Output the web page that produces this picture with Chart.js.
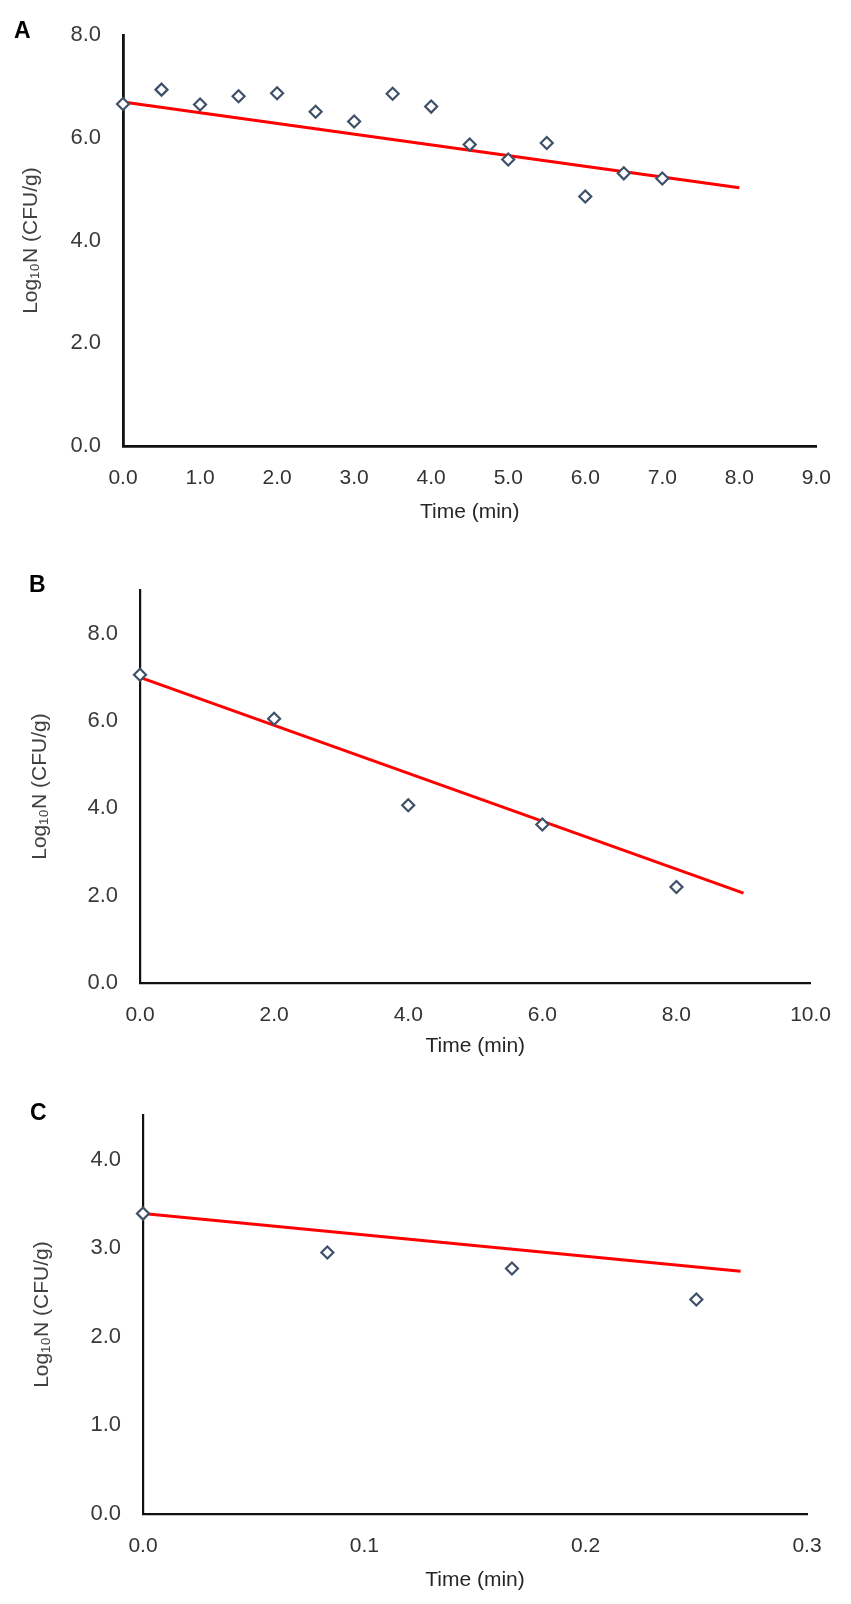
<!DOCTYPE html>
<html>
<head>
<meta charset="utf-8">
<script src="https://cdn.jsdelivr.net/npm/chart.js@4.4.1/dist/chart.umd.min.js"></script>
<style>
body{margin:0;background:#fff;}
#page{position:relative;width:851px;height:1604px;overflow:hidden;background:#fff;}
.panel{position:absolute;left:0;width:851px;}
.letter{position:absolute;font-family:"Liberation Sans",Arial,sans-serif;font-weight:bold;font-size:23px;line-height:1;color:#000;}
</style>
</head>
<body>
<div id="page">
	<div class="panel" style="top:0;height:540px"><canvas id="chartA" width="851" height="540"></canvas></div>
	<div class="panel" style="top:540px;height:540px"><canvas id="chartB" width="851" height="540"></canvas></div>
	<div class="panel" style="top:1080px;height:524px"><canvas id="chartC" width="851" height="524"></canvas></div>
	<div class="letter" style="left:14px;top:19px">A</div>
	<div class="letter" style="left:29px;top:573px">B</div>
	<div class="letter" style="left:30px;top:1101px">C</div>
</div>
<script>
// panel A
var timeA = [0, 0.5, 1.0, 1.5, 2.0, 2.5, 3.0, 3.5, 4.0, 4.5, 5.0, 5.5, 6.0, 6.5, 7.0];
var logA  = [6.66, 6.94, 6.65, 6.81, 6.87, 6.51, 6.32, 6.86, 6.61, 5.87, 5.58, 5.90, 4.86, 5.31, 5.21];
var fitTimeA = [0, 8.0];
var fitLogA  = [6.70, 5.03];

// panel B
var timeB = [0, 2, 4, 6, 8];
var logB  = [7.06, 6.05, 4.07, 3.63, 2.20];
var fitTimeB = [0, 9.0];
var fitLogB  = [7.00, 2.06];

// panel C
var timeC = [0, 0.0833, 0.1667, 0.25];
var logC  = [3.39, 2.95, 2.77, 2.42];
var fitTimeC = [0, 0.27];
var fitLogC  = [3.39, 2.74];

var xTitle = 'Time (min)';
var yTitle = 'Log\u2081\u2080N (CFU/g)';

var sans = "'Liberation Sans', Arial, sans-serif";

function toXY(xs, ys) {
	var out = [];
	for (var i = 0; i < xs.length; i++) out.push({x: xs[i], y: ys[i]});
	return out;
}

function drawPanel(id, p) {
	var ctx = document.getElementById(id).getContext('2d');

	var data = {
		datasets: [
			{
				label: 'observed',
				data: toXY(p.xs, p.ys),
				showLine: false,
				pointStyle: 'rectRot',
				pointRadius: 6,
				pointBorderWidth: 2.2,
				pointBorderColor: '#3e5068',
				pointBackgroundColor: '#ffffff',
				clip: false,
				order: 0
			},
			{
				label: 'fit',
				data: toXY(p.fx, p.fy),
				showLine: true,
				borderColor: '#ff0000',
				borderWidth: 3,
				pointRadius: 0,
				fill: false,
				clip: false,
				order: 1
			}
		]
	};

	var options = {
		responsive: false,
		animation: false,
		layout: { padding: { top: p.padTop, right: p.padRight, bottom: p.padBottom, left: 0 } },
		plugins: { legend: { display: false }, tooltip: { enabled: false } },
		scales: {
			x: {
				type: 'linear',
				min: 0,
				max: p.xMax,
				afterFit: function(s) { s.height = p.xHeight; },
				border: { display: true, color: '#111', width: p.axisW },
				grid: { display: false, drawTicks: false },
				ticks: {
					stepSize: p.xStep,
					autoSkip: false,
					includeBounds: false,
					maxRotation: 0,
					padding: 20,
					color: '#333',
					font: { family: sans, size: 21 },
					callback: function(v) { return v.toFixed(1); }
				},
				title: {
					display: true,
					text: xTitle,
					color: '#262626',
					padding: 0,
					font: { family: sans, size: 21 }
				}
			},
			y: {
				type: 'linear',
				min: 0,
				max: p.yMax,
				afterFit: function(s) { s.width = p.yWidth; },
				border: { display: true, color: '#111', width: p.axisW },
				grid: { display: false, drawTicks: false },
				ticks: {
					stepSize: p.yStep,
					autoSkip: false,
					includeBounds: false,
					padding: 22,
					color: '#3a3a3a',
					font: { family: sans, size: 22 },
					callback: function(v) { return v.toFixed(1); }
				},
				title: {
					display: true,
					text: yTitle,
					color: '#404040',
					padding: { top: p.yTitlePad, bottom: 0 },
					font: { family: sans, size: 21 }
				}
			}
		}
	};

	return new Chart(ctx, { type: 'scatter', data: data, options: options });
}

drawPanel('chartA', {
	xs: timeA, ys: logA, fx: fitTimeA, fy: fitLogA,
	xMax: 9, xStep: 1, yMax: 8, yStep: 2,
	padTop: 26, padRight: 29, padBottom: 15, xHeight: 79, yWidth: 123,
	yTitlePad: 19, axisW: 2.8
});

drawPanel('chartB', {
	xs: timeB, ys: logB, fx: fitTimeB, fy: fitLogB,
	xMax: 10, xStep: 2, yMax: 9, yStep: 2,
	padTop: 50, padRight: 38, padBottom: 21, xHeight: 76, yWidth: 140,
	yTitlePad: 28, axisW: 2.2
});

drawPanel('chartC', {
	xs: timeC, ys: logC, fx: fitTimeC, fy: fitLogC,
	xMax: 0.3, xStep: 0.1, yMax: 4.5, yStep: 1,
	padTop: 33, padRight: 44, padBottom: 11, xHeight: 79, yWidth: 143,
	yTitlePad: 30, axisW: 2.2
});
</script>
</body>
</html>
